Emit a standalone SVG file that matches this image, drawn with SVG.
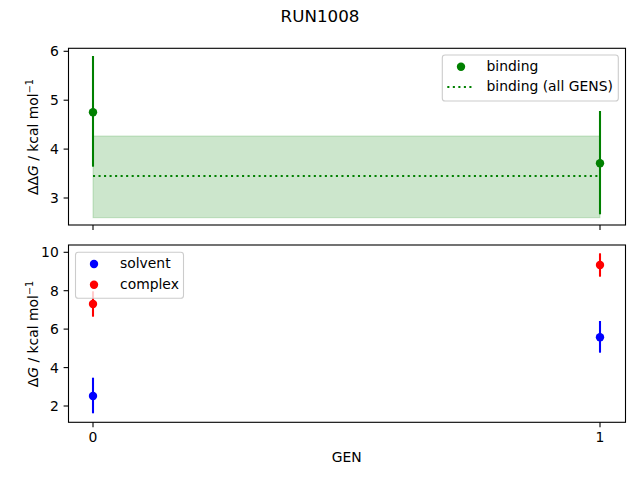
<svg xmlns="http://www.w3.org/2000/svg" width="640" height="480" viewBox="0 0 640 480">
<style>
text{font-family:"DejaVu Sans","Liberation Sans",sans-serif;fill:#000}
.t{font-size:13.9px}
.yt{font-size:13.9px;text-anchor:end}
.xt{font-size:13.9px;text-anchor:middle}
.spine{fill:none;stroke:#000;stroke-width:1.1}
.tick{stroke:#000;stroke-width:1.1}
.eg{stroke:green;stroke-width:2.08}
.eb{stroke:blue;stroke-width:2.08}
.er{stroke:red;stroke-width:2.08}
.leg{fill:#fff;fill-opacity:0.8;stroke:#ccc;stroke-width:1.1}
</style>
<rect width="640" height="480" fill="#fff"/>
<text x="320" y="22" style="font-size:16.7px" text-anchor="middle">RUN1008</text>

<g id="top-axes">
<rect x="68.5" y="48.3" width="557" height="176.7" fill="#fff"/>
<rect x="93" y="136" width="507" height="81.7" fill="green" fill-opacity="0.2" stroke="green" stroke-opacity="0.2" stroke-width="1"/>
<line x1="93" y1="176" x2="600" y2="176" stroke="green" stroke-width="2.08" stroke-dasharray="2.08,3.44"/>
<line class="eg" x1="93" y1="56" x2="93" y2="166.7"/>
<circle cx="93" cy="112.3" r="4.2" fill="green"/>
<line class="eg" x1="600" y1="111" x2="600" y2="214.3"/>
<circle cx="600" cy="163.3" r="4.2" fill="green"/>
<rect class="spine" x="68.5" y="48.3" width="557" height="176.7"/>
<g class="tick">
<line x1="93" y1="225" x2="93" y2="229.9"/><line x1="600" y1="225" x2="600" y2="229.9"/>
<line x1="63.6" y1="51.3" x2="68.5" y2="51.3"/><line x1="63.6" y1="100.2" x2="68.5" y2="100.2"/>
<line x1="63.6" y1="149.1" x2="68.5" y2="149.1"/><line x1="63.6" y1="198" x2="68.5" y2="198"/>
</g>
<text class="yt" x="58.8" y="56.3">6</text>
<text class="yt" x="58.8" y="105.2">5</text>
<text class="yt" x="58.8" y="154.1">4</text>
<text class="yt" x="58.8" y="203">3</text>
<text class="t" transform="translate(38,137) rotate(-90)" text-anchor="middle">ΔΔ<tspan font-style="italic">G</tspan> / kcal mol<tspan dy="-5" style="font-size:9.7px">−1</tspan></text>
</g>

<g id="top-legend">
<rect class="leg" x="442.3" y="55" width="176" height="46" rx="2.8"/>
<circle cx="461" cy="66.7" r="4.2" fill="green"/>
<text class="t" x="486.5" y="70.7">binding</text>
<line x1="447.3" y1="87" x2="474.3" y2="87" stroke="green" stroke-width="2.08" stroke-dasharray="2.08,3.44"/>
<text class="t" x="486.5" y="91">binding (all GENS)</text>
</g>

<g id="bottom-axes">
<rect x="68.5" y="245" width="557" height="177.3" fill="#fff"/>
<line class="eb" x1="93" y1="377.7" x2="93" y2="413.3"/>
<circle cx="93" cy="396" r="4.2" fill="blue"/>
<line class="er" x1="93" y1="291.3" x2="93" y2="316.7"/>
<circle cx="93" cy="304" r="4.2" fill="red"/>
<line class="er" x1="600" y1="253.3" x2="600" y2="276.7"/>
<circle cx="600" cy="265" r="4.2" fill="red"/>
<line class="eb" x1="600" y1="321" x2="600" y2="352.7"/>
<circle cx="600" cy="337.3" r="4.2" fill="blue"/>
<rect class="spine" x="68.5" y="245" width="557" height="177.3"/>
<g class="tick">
<line x1="93" y1="422.3" x2="93" y2="427.2"/><line x1="600" y1="422.3" x2="600" y2="427.2"/>
<line x1="63.6" y1="252.3" x2="68.5" y2="252.3"/><line x1="63.6" y1="290.7" x2="68.5" y2="290.7"/>
<line x1="63.6" y1="329.1" x2="68.5" y2="329.1"/><line x1="63.6" y1="367.6" x2="68.5" y2="367.6"/>
<line x1="63.6" y1="406" x2="68.5" y2="406"/>
</g>
<text class="yt" x="58.8" y="257.3">10</text>
<text class="yt" x="58.8" y="295.7">8</text>
<text class="yt" x="58.8" y="334.1">6</text>
<text class="yt" x="58.8" y="372.6">4</text>
<text class="yt" x="58.8" y="411">2</text>
<text class="xt" x="93" y="442">0</text>
<text class="xt" x="600" y="442">1</text>
<text class="xt" x="346.8" y="462">GEN</text>
<text class="t" transform="translate(38,334) rotate(-90)" text-anchor="middle">Δ<tspan font-style="italic">G</tspan> / kcal mol<tspan dy="-5" style="font-size:9.7px">−1</tspan></text>
</g>

<g id="bottom-legend">
<rect class="leg" x="75.5" y="252.3" width="108" height="46" rx="2.8"/>
<circle cx="94" cy="264" r="4.2" fill="blue"/>
<text class="t" x="120" y="267.5">solvent</text>
<circle cx="94" cy="284.7" r="4.2" fill="red"/>
<text class="t" x="120" y="288.5">complex</text>
</g>
</svg>
